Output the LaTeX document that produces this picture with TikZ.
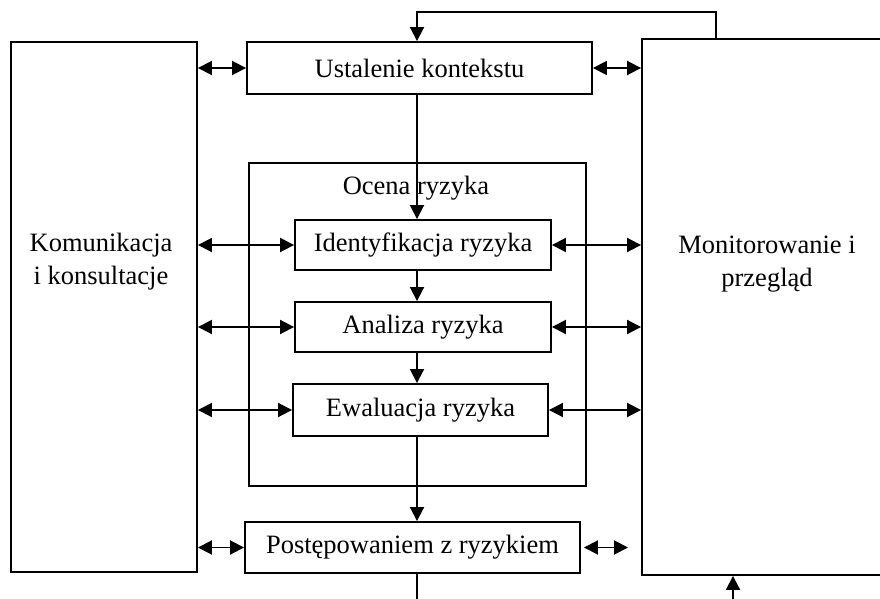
\documentclass[tikz,border=0pt]{standalone}
\usepackage{fontspec}
\setmainfont{Liberation Serif}
\usetikzlibrary{arrows.meta}
\begin{document}
\begin{tikzpicture}[x=1pt,y=-1pt,
  every node/.style={font=\fontsize{26.5}{33}\selectfont},
  frame/.style={draw,line width=1.9pt,rectangle,inner sep=0pt,anchor=center},
  tip/.style={Triangle[length=14pt,width=14pt]},
  link/.style={line width=1.9pt,-{Triangle[length=14pt,width=14pt]}},
  both/.style={line width=1.9pt,{Triangle[length=14pt,width=14pt]}-{Triangle[length=14pt,width=14pt]}},
  label/.style={inner sep=0pt,align=center}]
\useasboundingbox (0,0) rectangle (880,599);
\clip (0,0) rectangle (880,599);

% side blocks
\node[frame,minimum width=186pt,minimum height=530pt] (kom) at (104,307) {};
\node[frame,minimum width=258pt,minimum height=536pt] (mon) at (771,307) {};
\node[label] (komtxt) at (101,262) {Komunikacja\\i konsultacje};
\node[label] (montxt) at (767,264) {Monitorowanie i\\przegląd};

% central process
\node[frame,minimum width=345pt,minimum height=52pt] (ctx) at (419.5,68) {Ustalenie kontekstu};
\node[frame,minimum width=337pt,minimum height=323pt] (ocena) at (417.5,324.5) {};
\node[label] (ocenatxt) at (416,188) {Ocena ryzyka};
\node[frame,minimum width=256pt,minimum height=50pt] (ident) at (423,245) {Identyfikacja ryzyka};
\node[frame,minimum width=256pt,minimum height=50pt] (anal) at (423,327) {Analiza ryzyka};
\node[frame,minimum width=255pt,minimum height=52pt] (ewal) at (420.5,410) {Ewaluacja ryzyka};
\node[frame,minimum width=335pt,minimum height=51pt] (post) at (412.5,547.5) {Postępowaniem z ryzykiem};

% helper points
\coordinate (spine) at (417,0);
\coordinate (fbR) at (716,12);
\coordinate (fbL) at (417,12);
\coordinate (outB) at (417,599);
\coordinate (inB) at (733,599);
\coordinate (postR) at (628,547.5);

% main flow
\draw[link] (mon.north -| fbR) -- (fbR) -- (fbL) -- (ctx.north -| fbL);
\draw[link] (ctx.south -| spine) -- (ident.north -| spine);
\draw[link] (ident.south -| spine) -- (anal.north -| spine);
\draw[link] (anal.south -| spine) -- (ewal.north -| spine);
\draw[link] (ewal.south -| spine) -- (post.north -| spine);
\draw[line width=1.9pt] (post.south -| spine) -- (outB);
\draw[link] (inB) -- (mon.south -| inB);

% exchanges with communication
\draw[both] (kom.east |- ctx.west) -- (ctx.west);
\draw[both] (kom.east |- ident.west) -- (ident.west);
\draw[both] (kom.east |- anal.west) -- (anal.west);
\draw[both] (kom.east |- ewal.west) -- (ewal.west);
\draw[both] (kom.east |- post.west) -- (post.west);

% exchanges with monitoring
\draw[both] (ctx.east) -- (mon.west |- ctx.east);
\draw[both] (ident.east) -- (mon.west |- ident.east);
\draw[both] (anal.east) -- (mon.west |- anal.east);
\draw[both] (ewal.east) -- (mon.west |- ewal.east);
\draw[both] (post.east) ++(3,0) coordinate (postE) (postE) -- (postR);
\end{tikzpicture}
\end{document}
